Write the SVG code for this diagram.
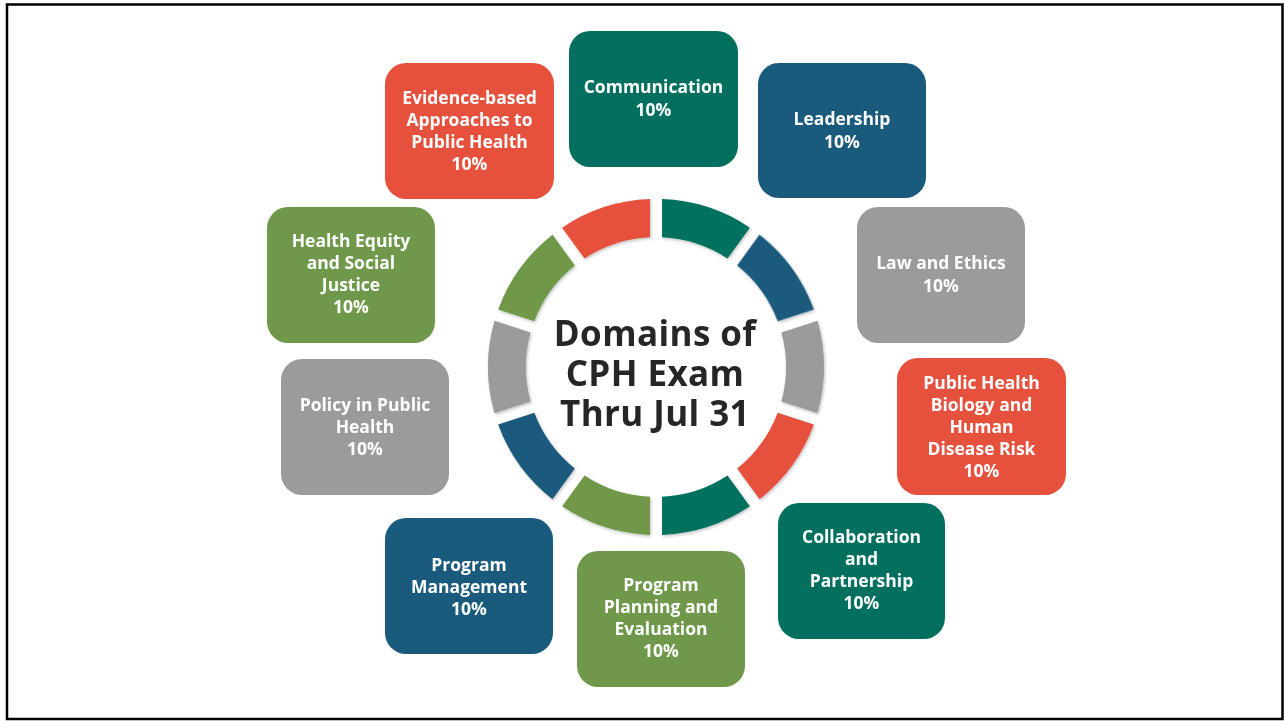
<svg xmlns="http://www.w3.org/2000/svg" width="1284" height="721" viewBox="0 0 1284 721">
<style>
.box{stroke:none}
.teal{fill:#03705F}
.blue{fill:#1A5A7D}
.gray{fill:#9B9B9C}
.red{fill:#E5513D}
.green{fill:#6F984A}
.lbl{font-family:"Open Sans","Noto Sans","DejaVu Sans",sans-serif;font-weight:700;font-size:17.5px;fill:#FFFFFF;text-anchor:middle}
.title{font-family:"Open Sans","Noto Sans","DejaVu Sans",sans-serif;font-weight:700;font-size:35px;letter-spacing:0.4px;fill:#262626;text-anchor:middle}
</style>
<defs>
<path id="seg" d="M 125.36 -34.42 L 161.53 -46.18 A 168 168 0 0 1 161.53 46.18 L 125.36 34.42 A 130 130 0 0 0 125.36 -34.42 Z"/>
<filter id="sh" x="-20%" y="-20%" width="140%" height="140%">
<feDropShadow dx="1" dy="1.5" stdDeviation="1.5" flood-color="#000" flood-opacity="0.25"/>
</filter>
</defs>
<rect x="0" y="0" width="1284" height="721" fill="#FFFFFF"/>
<rect x="7" y="4.5" width="1275.5" height="714.5" fill="#FFFFFF" stroke="#000000" stroke-width="2.5"/>

<g id="ring" transform="translate(656 367)" filter="url(#sh)">
<use href="#seg" class="gray" transform="rotate(0)"/>
<use href="#seg" class="red" transform="rotate(36)"/>
<use href="#seg" class="teal" transform="rotate(72)"/>
<use href="#seg" class="green" transform="rotate(108)"/>
<use href="#seg" class="blue" transform="rotate(144)"/>
<use href="#seg" class="gray" transform="rotate(180)"/>
<use href="#seg" class="green" transform="rotate(216)"/>
<use href="#seg" class="red" transform="rotate(252)"/>
<use href="#seg" class="teal" transform="rotate(288)"/>
<use href="#seg" class="blue" transform="rotate(324)"/>
</g>

<g id="center-title">
<text class="title" x="655" y="346">Domains of</text>
<text class="title" x="655" y="386">CPH Exam</text>
<text class="title" x="655" y="426">Thru Jul 31</text>
</g>

<g id="communication">
<rect class="box teal" x="569" y="31" width="169" height="136" rx="21"/>
<text class="lbl" x="653.5" y="93">Communication</text>
<text class="lbl" x="653.5" y="116">10%</text>
</g>

<g id="leadership">
<rect class="box blue" x="758" y="63" width="168" height="135" rx="21"/>
<text class="lbl" x="842" y="125">Leadership</text>
<text class="lbl" x="842" y="148">10%</text>
</g>

<g id="law-ethics">
<rect class="box gray" x="857" y="207" width="168" height="136" rx="21"/>
<text class="lbl" x="941" y="269">Law and Ethics</text>
<text class="lbl" x="941" y="292">10%</text>
</g>

<g id="biology">
<rect class="box red" x="897" y="358" width="169" height="137" rx="21"/>
<text class="lbl" x="981.5" y="389">Public Health</text>
<text class="lbl" x="981.5" y="411">Biology and</text>
<text class="lbl" x="981.5" y="433">Human</text>
<text class="lbl" x="981.5" y="455">Disease Risk</text>
<text class="lbl" x="981.5" y="477">10%</text>
</g>

<g id="collaboration">
<rect class="box teal" x="778" y="503" width="167" height="136" rx="21"/>
<text class="lbl" x="861.5" y="543">Collaboration</text>
<text class="lbl" x="861.5" y="565">and</text>
<text class="lbl" x="861.5" y="587">Partnership</text>
<text class="lbl" x="861.5" y="609">10%</text>
</g>

<g id="planning">
<rect class="box green" x="577" y="551" width="168" height="136" rx="21"/>
<text class="lbl" x="661" y="591">Program</text>
<text class="lbl" x="661" y="613">Planning and</text>
<text class="lbl" x="661" y="635">Evaluation</text>
<text class="lbl" x="661" y="657">10%</text>
</g>

<g id="management">
<rect class="box blue" x="385" y="518" width="168" height="136" rx="21"/>
<text class="lbl" x="469" y="571">Program</text>
<text class="lbl" x="469" y="593">Management</text>
<text class="lbl" x="469" y="615">10%</text>
</g>

<g id="policy">
<rect class="box gray" x="281" y="359" width="168" height="136" rx="21"/>
<text class="lbl" x="365" y="411">Policy in Public</text>
<text class="lbl" x="365" y="433">Health</text>
<text class="lbl" x="365" y="455">10%</text>
</g>

<g id="equity">
<rect class="box green" x="267" y="207" width="168" height="136" rx="21"/>
<text class="lbl" x="351" y="247">Health Equity</text>
<text class="lbl" x="351" y="269">and Social</text>
<text class="lbl" x="351" y="291">Justice</text>
<text class="lbl" x="351" y="313">10%</text>
</g>

<g id="evidence">
<rect class="box red" x="385" y="63" width="169" height="136" rx="21"/>
<text class="lbl" x="469.5" y="104">Evidence-based</text>
<text class="lbl" x="469.5" y="126">Approaches to</text>
<text class="lbl" x="469.5" y="148">Public Health</text>
<text class="lbl" x="469.5" y="170">10%</text>
</g>

<g id="connectors"></g>
</svg>
